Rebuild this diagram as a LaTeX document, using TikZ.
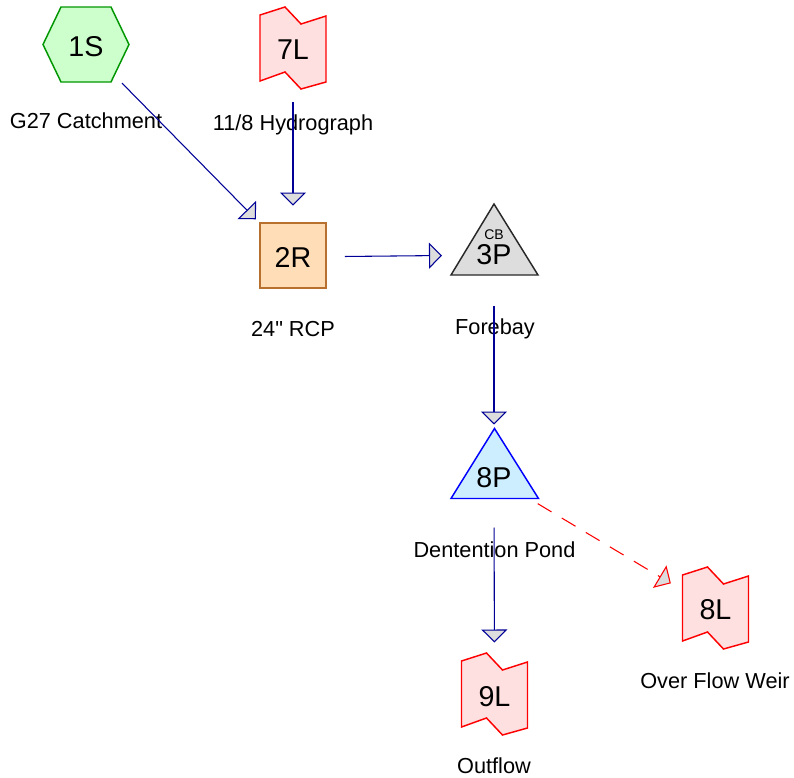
\documentclass[tikz,border=0pt]{standalone}
\usepackage{fontspec}
\setmainfont{Liberation Sans}
\font\qfont="Liberation Sans" at 16.3pt
\usetikzlibrary{arrows.meta}
\definecolor{hexfill}{RGB}{204,255,204}
\definecolor{hexdraw}{RGB}{0,150,0}
\definecolor{lfill}{RGB}{255,224,224}
\definecolor{ldraw}{RGB}{255,0,0}
\definecolor{sqfill}{RGB}{255,221,183}
\definecolor{sqdraw}{RGB}{184,112,46}
\definecolor{trifill}{RGB}{221,221,221}
\definecolor{tridraw}{RGB}{40,40,40}
\definecolor{pondfill}{RGB}{204,238,255}
\definecolor{ponddraw}{RGB}{0,0,255}
\definecolor{navy}{RGB}{0,0,150}
\definecolor{arrowgray}{RGB}{221,221,221}
\begin{document}
\begin{tikzpicture}[x=0.75pt,y=-0.75pt,
  lbl/.style={font=\fontsize{16.3}{19}\selectfont, anchor=base, inner sep=0pt},
  idtext/.style={font=\fontsize{21.5}{24}\selectfont, inner sep=0pt},
  smalltext/.style={font=\fontsize{10.5}{12}\selectfont, inner sep=0pt},
  conn/.style={draw=navy, line width=0.8pt, line join=miter,
    -{Triangle[length=9.75pt,width=19.5pt,fill=arrowgray]}},
  overflow/.style={draw=ldraw, line width=0.8pt, line join=miter,
    dash pattern=on 12pt off 9pt,
    -{Triangle[length=9.75pt,width=19.5pt,fill=arrowgray,sep=0pt]}},
  lstyle/.style={draw=ldraw, fill=lfill, line width=1.1pt, line join=miter},
  lshape/.pic={\path[lstyle] (-33,-33) -- (-8,-41) -- (8,-24) -- (33,-32) -- (33,34) -- (8,41) -- (-8,24) -- (-33,33) -- cycle;}
]
\useasboundingbox (0,0) rectangle (794,778);

% shapes
\path[draw=hexdraw, fill=hexfill, line width=1.1pt] (43,44.5) -- (61,7) -- (111,7) -- (129,44.5) -- (111,82) -- (61,82) -- cycle;
\pic at (293,48) {lshape};
\path[draw=sqdraw, fill=sqfill, line width=1.1pt] (260,223) rectangle (326,288);
\path[draw=tridraw, fill=trifill, line width=1.1pt] (494,204) -- (538,275) -- (451,275) -- cycle;
\path[draw=ponddraw, fill=pondfill, line width=1.1pt] (494.5,428.5) -- (538.5,498.5) -- (451,498.5) -- cycle;
\pic at (494.5,694) {lshape};
\pic at (715.5,608) {lshape};

% node texts
\node[idtext] (n1S) at (86,46.5) {1S};
\node[idtext] (n7L) at (293,50) {7L};
\node[idtext] (n2R) at (293,257) {2R};
\node[smalltext] (nCB) at (494,234.7) {CB};
\node[idtext] (n3P) at (494,255) {3P};
\node[idtext] (n8P) at (494,477.5) {8P};
\node[idtext] (n9L) at (494.5,696.5) {9L};
\node[idtext] (n8L) at (715.5,610) {8L};

% labels
\node[lbl] (l1S) at (86,128) {G27 Catchment};
\node[lbl] (l7L) at (293,130) {11/8 Hydrograph};
\node[lbl] (l2R) at (293,336) {24{\qfont\char34} RCP};
\node[lbl] (l3P) at (495,334) {Forebay};
\node[lbl] (l8P) at (494.5,557) {Dentention Pond};
\node[lbl] (l8L) at (715,688) {Over Flow Weir};
\node[lbl] (l9L) at (494,773) {Outflow};

% connectors
\draw[conn, shorten <=38.5pt, shorten >=39.7pt] (n1S.center) -- (n2R.center);
\draw[conn, shorten <=39pt, shorten >=38.6pt] (n7L.center) -- (n2R.center);
\draw[conn, shorten <=39pt, shorten >=39pt] (n2R.center) -- (n3P.center);
\draw[conn, shorten <=38.25pt, shorten >=39.75pt] (n3P.center) -- (n8P.center);
\draw[conn, shorten <=37.5pt, shorten >=40.5pt] (n8P.center) -- (n9L.center);
\draw[overflow, shorten <=38.25pt, shorten >=39pt] (n8P.center) -- (n8L.center);
\end{tikzpicture}
\end{document}
